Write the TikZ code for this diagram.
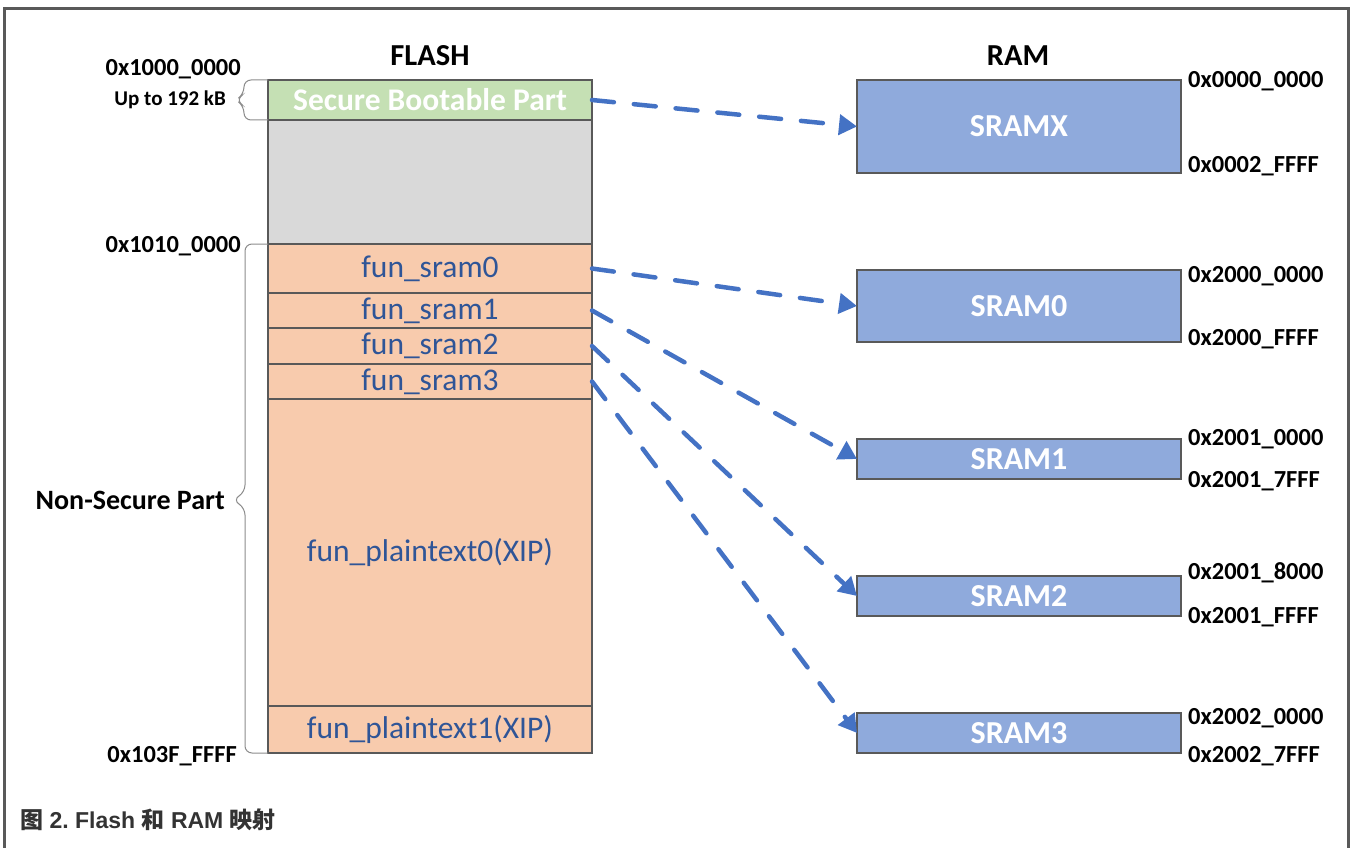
\documentclass[tikz,border=0pt]{standalone}
\usepackage{fontspec}
\setmainfont{Carlito}
\newfontfamily\capfont{Liberation Sans}
\newfontfamily\cjk{Noto Sans CJK SC}
\usetikzlibrary{arrows.meta}

\definecolor{frame}{HTML}{595959}
\definecolor{edge}{HTML}{595959}
\definecolor{bootgreen}{HTML}{C5E0B4}
\definecolor{gapgray}{HTML}{D9D9D9}
\definecolor{peach}{HTML}{F8CBAD}
\definecolor{ramblue}{HTML}{8FAADC}
\definecolor{arrowblue}{HTML}{4472C4}
\definecolor{funtext}{HTML}{2F5597}
\definecolor{captext}{HTML}{333333}
\definecolor{bracegray}{HTML}{8C8C8C}

\tikzset{
  seg/.style={draw=edge, line width=1.2pt, minimum width=324pt, inner sep=0pt, outer sep=0pt},
  funlbl/.style={text=funtext, font=\fontsize{31.5}{33}\selectfont},
  rambox/.style={draw=edge, line width=1.2pt, fill=ramblue, minimum width=324pt, inner sep=0pt, outer sep=0pt,
                 text=white, font=\fontsize{32}{34}\selectfont\bfseries},
  addr/.style={font=\fontsize{24.5}{26}\selectfont\bfseries, inner sep=0pt},
  title/.style={font=\fontsize{30.5}{32}\selectfont\bfseries, inner sep=0pt},
  maplink/.style={draw=arrowblue, line width=4.5pt, line cap=round, dash pattern=on 22pt off 20pt,
                  -{Triangle[length=18pt,width=20pt]}},
  bracepath/.style={draw=bracegray, line width=1pt, rounded corners=7pt},
}

\begin{document}
\begin{tikzpicture}[x=1pt, y=-1pt]
\useasboundingbox (0,0) rectangle (1352,848);

% outer frame (open at the bottom)
\draw[frame, line width=3pt] (4.5,848) -- (4.5,8.5) -- (1348.5,8.5) -- (1348.5,848);

% titles
\node[title] (flashtitle) at (430,56) {FLASH};
\node[title] (ramtitle) at (1018,56) {RAM};

% flash memory column
\node[seg, fill=bootgreen, minimum height=40pt, text=white, font=\fontsize{31.5}{33}\selectfont\bfseries] (boot) at (430,100) {Secure Bootable Part};
\node[seg, fill=gapgray, minimum height=124pt] (gap) at (430,182) {};
\node[seg, fill=peach, minimum height=49pt, funlbl] (f0) at (430,268.5) {fun\_sram0};
\node[seg, fill=peach, minimum height=35pt, funlbl] (f1) at (430,310.5) {fun\_sram1};
\node[seg, fill=peach, minimum height=36pt, funlbl] (f2) at (430,346) {fun\_sram2};
\node[seg, fill=peach, minimum height=35pt, funlbl] (f3) at (430,381.5) {fun\_sram3};
\node[seg, fill=peach, minimum height=307pt, funlbl] (p0) at (430,552.5) {fun\_plaintext0(XIP)};
\node[seg, fill=peach, minimum height=47pt, funlbl] (p1) at (430,729.5) {fun\_plaintext1(XIP)};

% RAM regions
\node[rambox, minimum height=93pt] (sramx) at (1019,126.5) {SRAMX};
\node[rambox, minimum height=72pt] (sram0) at (1019,306) {SRAM0};
\node[rambox, minimum height=40pt] (sram1) at (1019,459) {SRAM1};
\node[rambox, minimum height=40pt] (sram2) at (1019,596) {SRAM2};
\node[rambox, minimum height=40pt] (sram3) at (1019,733) {SRAM3};

% RAM address labels
\node[addr, anchor=west] (ax0) at (1188,81) {0x0000\_0000};
\node[addr, anchor=west] (ax1) at (1188,166) {0x0002\_FFFF};
\node[addr, anchor=west] (a00) at (1188,276) {0x2000\_0000};
\node[addr, anchor=west] (a01) at (1188,339) {0x2000\_FFFF};
\node[addr, anchor=west] (a10) at (1188,439) {0x2001\_0000};
\node[addr, anchor=west] (a11) at (1188,481) {0x2001\_7FFF};
\node[addr, anchor=west] (a20) at (1188,573) {0x2001\_8000};
\node[addr, anchor=west] (a21) at (1188,617) {0x2001\_FFFF};
\node[addr, anchor=west] (a30) at (1188,718) {0x2002\_0000};
\node[addr, anchor=west] (a31) at (1188,756) {0x2002\_7FFF};

% flash address labels
\node[addr, anchor=east] (fa0) at (241,69) {0x1000\_0000};
\node[addr, anchor=east, font=\fontsize{21}{23}\selectfont\bfseries] (upto) at (226,100) {Up to 192 kB};
\node[addr, anchor=east, font=\fontsize{28}{30}\selectfont\bfseries] (nonsec) at (225,500) {Non-Secure Part};
\node[addr, anchor=east] (fa1) at (241,246) {0x1010\_0000};
\node[addr, anchor=east] (fa2) at (237,756) {0x103F\_FFFF};

% braces
\draw[bracepath] (boot.north west) -- (244,80) -- (244,94) -- (236,100) -- (244,106) -- (244,120) -- (boot.south west);
\draw[bracepath] (f0.north west) -- (245,244) -- (245,492) -- (233,500) -- (245,508) -- (245,753) -- (p1.south west);

% mapping arrows
\draw[maplink] (boot.east) -- (sramx.west);
\draw[maplink] (f0.east) -- (sram0.west);
\draw[maplink] (f1.east) -- (sram1.west);
\draw[maplink] (f2.east) -- (sram2.west);
\draw[maplink] (f3.east) -- (sram3.west);

% caption
\node[anchor=west, inner sep=0pt, text=captext, font=\fontsize{23}{25}\selectfont\bfseries] (caption) at (20,820)
  {{\cjk\bfseries 图}\capfont\bfseries{} 2.\ Flash {\cjk\bfseries 和} RAM {\cjk\bfseries 映射}};
\end{tikzpicture}
\end{document}
